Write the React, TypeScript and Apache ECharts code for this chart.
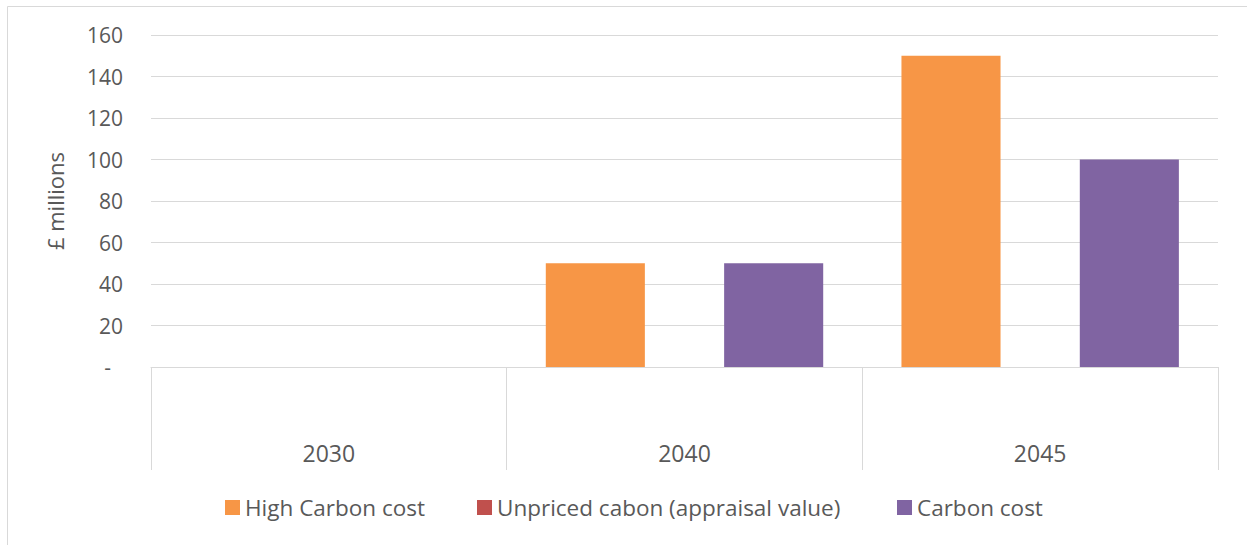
import React, { useEffect, useRef } from "react";
import * as echarts from "echarts";

const categories = ["2030", "2040", "2045"];
const highCarbonCost = [0, 50, 150];
const unpricedCarbon = [0, 0, 0];
const carbonCost = [0, 50, 100];
const seriesNames = ["High Carbon cost", "Unpriced cabon (appraisal value)", "Carbon cost"];
const seriesColors = ["#F79646", "#C0504D", "#8064A2"];
const FONT = "'Open Sans', sans-serif";
const TEXT = "#595959";
const GRID = "#d9d9d9";

export default function App() {
  const ref = useRef<HTMLDivElement>(null);
  useEffect(() => {
    if (!ref.current) return;
    const chart = echarts.init(ref.current, null, { renderer: "svg" });
    const legendLefts = [220, 472, 892];
    const values = [highCarbonCost, unpricedCarbon, carbonCost];
    chart.setOption({
      animation: false,
      backgroundColor: "#ffffff",
      textStyle: { fontFamily: FONT },
      graphic: [
        {
          type: "rect",
          shape: { x: 7.5, y: 6.5, width: 1300, height: 600 },
          style: { fill: "none", stroke: GRID, lineWidth: 1 },
          silent: true,
        },
      ],
      grid: { left: 151, right: 29, top: 35, bottom: 178 },
      legend: seriesNames.map((n, i) => ({
        data: [n],
        left: legendLefts[i],
        top: 491,
        itemWidth: 15,
        itemHeight: 15,
        icon: "rect",
        textStyle: { color: TEXT, fontSize: 22.5, fontFamily: FONT, padding: [0, 0, 0, 0] },
      })),
      xAxis: {
        type: "category",
        data: categories,
        axisLine: { show: true, lineStyle: { color: GRID, width: 1 } },
        axisTick: { show: true, interval: 0, length: 103, lineStyle: { color: GRID, width: 1 } },
        axisLabel: { color: TEXT, fontSize: 23, fontFamily: FONT, margin: 74 },
      },
      yAxis: {
        type: "value",
        min: 0,
        max: 160,
        interval: 20,
        name: "£ millions",
        nameLocation: "middle",
        nameGap: 85,
        nameTextStyle: { color: TEXT, fontSize: 22, fontFamily: FONT },
        axisLine: { show: false },
        axisTick: { show: false },
        splitLine: { lineStyle: { color: GRID, width: 1 } },
        axisLabel: {
          color: TEXT,
          fontSize: 21,
          fontFamily: FONT,
          margin: 28,
          formatter: (v: number) => (v === 0 ? "{d|-}" : String(v)),
          rich: { d: { color: TEXT, fontSize: 21, fontFamily: FONT, padding: [0, 12, 0, 0] } },
        },
      },
      series: seriesNames.map((n, i) => ({
        name: n,
        type: "bar",
        data: values[i],
        itemStyle: { color: seriesColors[i] },
        barGap: "-10%",
        barCategoryGap: "22%",
      })),
    });
    return () => chart.dispose();
  }, []);
  return (
    <div
      ref={ref}
      style={{ position: "fixed", left: 0, top: 0, width: 1247, height: 545 }}
    />
  );
}
